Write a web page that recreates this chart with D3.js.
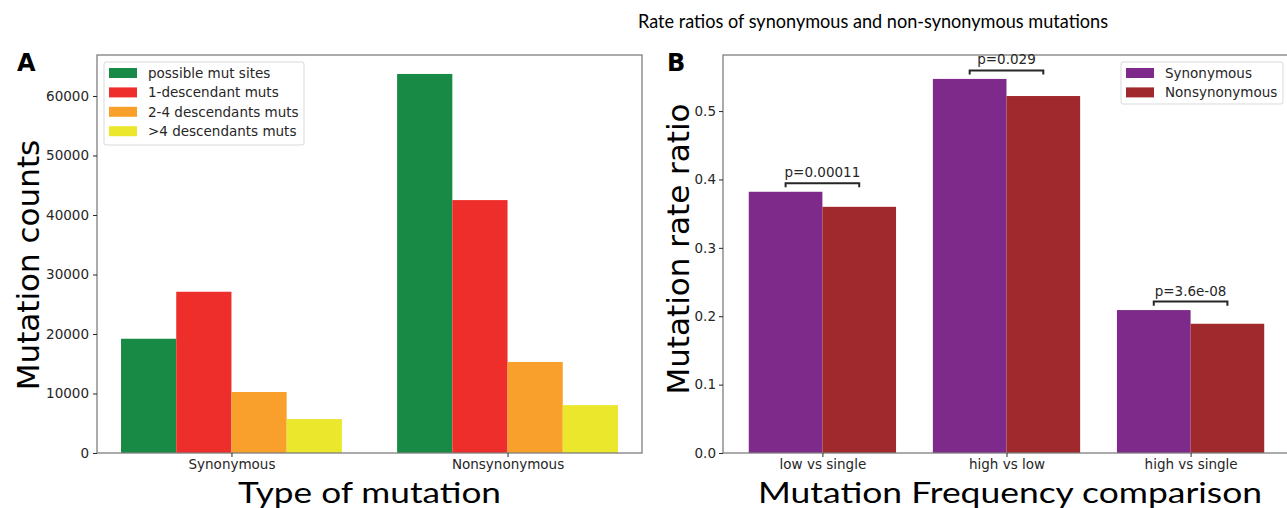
<!DOCTYPE html>
<html><head><meta charset="utf-8">
<script src="https://cdn.jsdelivr.net/npm/d3@7"></script>
<style>body{margin:0;background:#fff}svg{display:block}</style>
</head><body><svg id="c" width="1287" height="508"></svg>
<script>
// Panel A data
const typesA = ["Synonymous", "Nonsynonymous"];
const seriesA = ["possible mut sites", "1-descendant muts", "2-4 descendants muts", ">4 descendants muts"];
const colorsA = ["#188a45", "#ee2e2a", "#f8a02b", "#ebe72c"];
const possibleSites = [19200, 63700];
const oneDesc = [27100, 42500];
const twoFourDesc = [10250, 15300];
const moreFourDesc = [5700, 8050];
const ticksA = [0, 10000, 20000, 30000, 40000, 50000, 60000];

// Panel B data
const compsB = ["low vs single", "high vs low", "high vs single"];
const seriesB = ["Synonymous", "Nonsynonymous"];
const colorsB = ["#7d2a8b", "#a0292d"];
const synRatio = [0.382, 0.547, 0.209];
const nonsynRatio = [0.360, 0.522, 0.189];
const pLabels = ["p=0.00011", "p=0.029", "p=3.6e-08"];
const ticksB = [0.0, 0.1, 0.2, 0.3, 0.4, 0.5];

const svg = d3.select("#c");
const tickFont = "DejaVu Sans";
const fs = 13.5;
const txtCol = "#262626";
const spineCol = "#7f7f7f";
const plotTop = 55, plotBottom = 453;

function frame(g, x0, x1) {
  g.append("rect").attr("x", x0).attr("y", plotTop).attr("width", x1 - x0).attr("height", plotBottom - plotTop)
    .attr("fill", "none").attr("stroke", spineCol).attr("stroke-width", 1.3);
}
function styleAxis(a) {
  a.select(".domain").remove();
  a.selectAll("line").attr("stroke", txtCol);
  a.selectAll("text").attr("font-family", tickFont).attr("font-size", fs).attr("fill", txtCol);
}

// ---------- Panel A ----------
{
  const L = 97, R = 642;
  const x = d3.scaleLinear().domain([-0.487, 1.487]).range([L, R]);
  const y = d3.scaleLinear().domain([0, 66885]).range([plotBottom, plotTop]);
  const vals = [possibleSites, oneDesc, twoFourDesc, moreFourDesc];
  const w = 0.2;
  const g = svg.append("g");
  vals.forEach((arr, si) => {
    g.selectAll(null).data(arr).enter().append("rect")
      .attr("x", (d, i) => x(i - 0.4 + si * w))
      .attr("width", x(w) - x(0))
      .attr("y", d => y(d))
      .attr("height", d => y(0) - y(d))
      .attr("fill", colorsA[si]);
  });
  frame(g, L, R);
  const ya = d3.axisLeft(y).tickValues(ticksA).tickFormat(d3.format("d")).tickSize(4).tickPadding(4);
  styleAxis(g.append("g").attr("transform", `translate(${L},0)`).call(ya));
  const xa = d3.axisBottom(x).tickValues([0, 1]).tickFormat((d) => typesA[d]).tickSize(4).tickPadding(2);
  styleAxis(g.append("g").attr("transform", `translate(0,${plotBottom})`).call(xa));
  g.append("text").attr("transform", `translate(39,265) rotate(-90)`)
    .attr("text-anchor", "middle").attr("font-family", tickFont).attr("font-size", 31)
    .attr("fill", "#000").text("Mutation counts");
  g.append("text").attr("x", (L + R) / 2).attr("y", 503).attr("text-anchor", "middle")
    .attr("font-family", "Lato").attr("font-size", 29).attr("fill", "#000")
    .attr("textLength", 263).attr("lengthAdjust", "spacingAndGlyphs").text("Type of mutation");
  g.append("text").attr("x", 17).attr("y", 71).attr("font-family", "DejaVu Sans").attr("font-weight", "bold")
    .attr("font-size", 24).text("A");
  // legend
  const lg = g.append("g");
  lg.append("rect").attr("x", 104).attr("y", 62).attr("width", 200).attr("height", 83).attr("rx", 2)
    .attr("fill", "#fff").attr("fill-opacity", 0.8).attr("stroke", "#d9d9d9");
  seriesA.forEach((s, i) => {
    lg.append("rect").attr("x", 109).attr("y", 68 + i * 19.4).attr("width", 28).attr("height", 10).attr("fill", colorsA[i]);
    lg.append("text").attr("x", 148).attr("y", 78 + i * 19.4).attr("font-family", tickFont)
      .attr("font-size", fs).attr("fill", txtCol).text(s);
  });
}

// ---------- Panel B ----------
{
  const L = 723, R = 1290;
  const x = d3.scaleLinear().domain([-0.54, 2.54]).range([L, R]);
  const y = d3.scaleLinear().domain([0, 0.582]).range([plotBottom, plotTop]);
  const vals = [synRatio, nonsynRatio];
  const w = 0.4;
  const g = svg.append("g");
  vals.forEach((arr, si) => {
    g.selectAll(null).data(arr).enter().append("rect")
      .attr("x", (d, i) => x(i - 0.4 + si * w))
      .attr("width", x(w) - x(0))
      .attr("y", d => y(d))
      .attr("height", d => y(0) - y(d))
      .attr("fill", colorsB[si]);
  });
  frame(g, L, R);
  const ya = d3.axisLeft(y).tickValues(ticksB).tickFormat(d3.format(".1f")).tickSize(4).tickPadding(3);
  styleAxis(g.append("g").attr("transform", `translate(${L},0)`).call(ya));
  const xa = d3.axisBottom(x).tickValues([0, 1, 2]).tickFormat((d) => compsB[d]).tickSize(4).tickPadding(2);
  styleAxis(g.append("g").attr("transform", `translate(0,${plotBottom})`).call(xa));
  // brackets
  compsB.forEach((c, i) => {
    const m = Math.max(synRatio[i], nonsynRatio[i]);
    const yb = y(m + 0.0125), yt = y(m + 0.0065);
    const x0 = x(i - 0.2), x1 = x(i + 0.2);
    g.append("path").attr("d", `M${x0},${yt}L${x0},${yb}L${x1},${yb}L${x1},${yt}`)
      .attr("fill", "none").attr("stroke", "#262626").attr("stroke-width", 2);
    g.append("text").attr("x", (x0 + x1) / 2).attr("y", yb - 6).attr("text-anchor", "middle")
      .attr("font-family", tickFont).attr("font-size", fs).attr("fill", txtCol).text(pLabels[i]);
  });
  g.append("text").attr("transform", `translate(689,249) rotate(-90)`)
    .attr("text-anchor", "middle").attr("font-family", tickFont).attr("font-size", 31)
    .attr("fill", "#000").text("Mutation rate ratio");
  g.append("text").attr("x", 1010).attr("y", 503).attr("text-anchor", "middle")
    .attr("font-family", "Lato").attr("font-size", 29).attr("fill", "#000")
    .attr("textLength", 504).attr("lengthAdjust", "spacingAndGlyphs").text("Mutation Frequency comparison");
  g.append("text").attr("x", 667).attr("y", 71).attr("font-family", "DejaVu Sans").attr("font-weight", "bold")
    .attr("font-size", 24).text("B");
  g.append("text").attr("x", 873).attr("y", 28).attr("text-anchor", "middle")
    .attr("font-family", "Lato").attr("font-size", 19).attr("fill", "#000")
    .attr("textLength", 470).attr("lengthAdjust", "spacingAndGlyphs")
    .text("Rate ratios of synonymous and non-synonymous mutations");
  const lg = g.append("g");
  lg.append("rect").attr("x", 1121).attr("y", 62).attr("width", 162).attr("height", 42).attr("rx", 2)
    .attr("fill", "#fff").attr("fill-opacity", 0.8).attr("stroke", "#d9d9d9");
  seriesB.forEach((s, i) => {
    lg.append("rect").attr("x", 1126).attr("y", 68 + i * 19.4).attr("width", 28).attr("height", 10).attr("fill", colorsB[i]);
    lg.append("text").attr("x", 1165).attr("y", 78 + i * 19.4).attr("font-family", tickFont)
      .attr("font-size", fs).attr("fill", txtCol).text(s);
  });
}
</script></body></html>
